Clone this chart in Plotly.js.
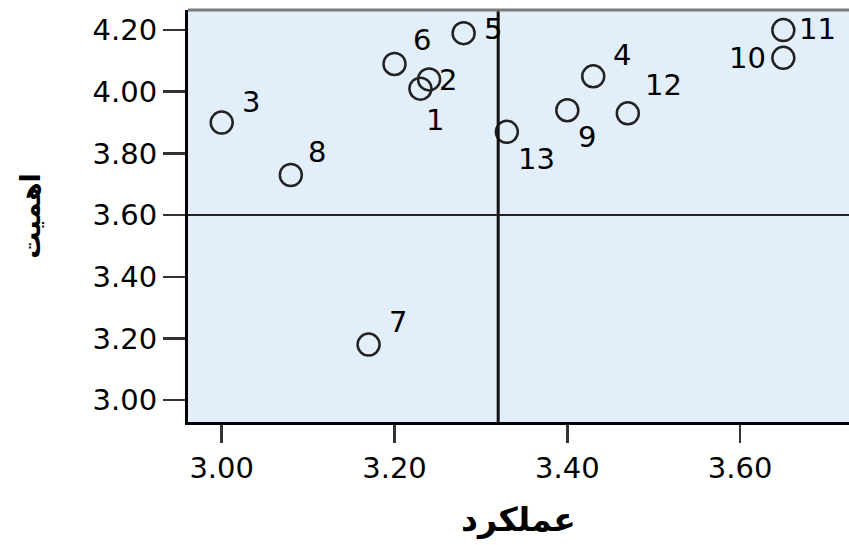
<!DOCTYPE html>
<html>
<head>
<meta charset="utf-8">
<script src="https://cdn.plot.ly/plotly-3.0.1.min.js"></script>
<style>
  html, body { margin: 0; padding: 0; background: #ffffff; }
  #chart { width: 849px; height: 545px; }
</style>
</head>
<body>
<div id="chart"></div>
<script>
// Données : numéro de cas, performance (x), importance (y)
const caseLabels = ['1', '2', '3', '4', '5', '6', '7', '8', '9', '10', '11', '12', '13'];
const performance = [3.23, 3.24, 3.00, 3.43, 3.28, 3.20, 3.17, 3.08, 3.40, 3.65, 3.65, 3.47, 3.33];
const importance = [4.01, 4.04, 3.90, 4.05, 4.19, 4.09, 3.18, 3.73, 3.94, 4.11, 4.20, 3.93, 3.87];

// Lignes de référence (moyennes)
const meanPerformance = 3.32;
const meanImportance = 3.60;

const xTicks = [3.00, 3.20, 3.40, 3.60];
const yTicks = [3.00, 3.20, 3.40, 3.60, 3.80, 4.00, 4.20];

// Décalage des étiquettes (pixels écran, y vers le bas)
const labelDx = [15, 19, 29, 29, 29, 27, 29, 26, 20, -36, 34, 36, 30];
const labelDy = [31, 1, -21, -21, -4, -24, -23, -23, 27, 0, -1, -28, 27];

const fontFamily = 'DejaVu Sans, sans-serif';

const trace = {
    x: performance,
    y: importance,
    mode: 'markers',
    type: 'scatter',
    marker: {
        symbol: 'circle-open',
        size: 22,
        color: '#222222',
        line: { color: '#222222', width: 2.5 }
    },
    hoverinfo: 'skip'
};

const annotations = caseLabels.map(function (lab, i) {
    return {
        x: performance[i],
        y: importance[i],
        xref: 'x',
        yref: 'y',
        text: lab,
        showarrow: false,
        xshift: labelDx[i],
        yshift: -labelDy[i],
        font: { family: fontFamily, size: 29, color: '#000000' }
    };
});

const shapes = [
    // ligne verticale
    {
        type: 'line', xref: 'x', yref: 'paper',
        x0: meanPerformance, x1: meanPerformance, y0: 0, y1: 1,
        line: { color: '#111111', width: 3 }
    },
    // ligne horizontale
    {
        type: 'line', xref: 'paper', yref: 'y',
        x0: 0, x1: 1, y0: meanImportance, y1: meanImportance,
        line: { color: '#222222', width: 2 }
    },
    // bord supérieur
    {
        type: 'line', xref: 'paper', yref: 'paper',
        x0: 0, x1: 1, y0: 1, y1: 1,
        line: { color: '#7a7a7a', width: 3 }
    }
];

const layout = {
    width: 849,
    height: 545,
    margin: { l: 188, r: 0, t: 10, b: 123 },
    paper_bgcolor: '#ffffff',
    plot_bgcolor: '#e2eefa',
    showlegend: false,
    font: { family: fontFamily, size: 29, color: '#000000' },
    xaxis: {
        range: [2.961, 3.726],
        tickvals: xTicks,
        tickformat: '.2f',
        ticks: 'outside',
        ticklen: 18,
        tickwidth: 2.5,
        tickcolor: '#333333',
        showgrid: false,
        zeroline: false,
        showline: true,
        linecolor: '#000000',
        linewidth: 3,
        tickfont: { family: fontFamily, size: 29, color: '#000000' },
        title: {
            text: 'عملکرد',
            font: { family: 'DejaVu Sans, sans-serif', size: 33, color: '#000000', weight: 'bold' },
            standoff: 25
        }
    },
    yaxis: {
        range: [2.929, 4.265],
        tickvals: yTicks,
        tickformat: '.2f',
        ticks: 'outside',
        ticklen: 22,
        tickwidth: 2.5,
        tickcolor: '#333333',
        showgrid: false,
        zeroline: false,
        showline: true,
        linecolor: '#000000',
        linewidth: 3,
        tickfont: { family: fontFamily, size: 29, color: '#000000' },
        title: {
            text: 'اهمیت',
            font: { family: 'DejaVu Sans, sans-serif', size: 27, color: '#000000', weight: 'bold' },
            standoff: 45
        }
    },
    annotations: annotations,
    shapes: shapes
};

Plotly.newPlot('chart', [trace], layout, { displayModeBar: false, staticPlot: true });
</script>
</body>
</html>
